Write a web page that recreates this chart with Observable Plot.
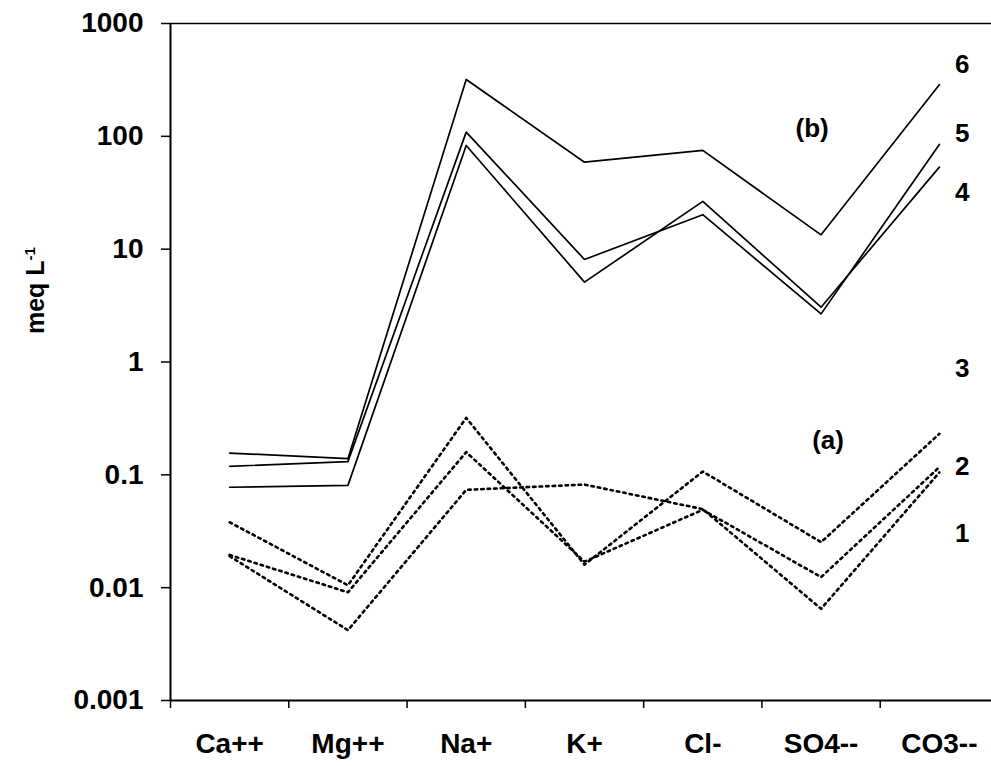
<!DOCTYPE html>
<html>
<head>
<meta charset="utf-8">
<script src="https://cdn.jsdelivr.net/npm/d3@7"></script>
<script src="https://cdn.jsdelivr.net/npm/@observablehq/plot@0.6"></script>
<style>
  html, body { margin: 0; padding: 0; background: #fff; overflow: hidden; }
</style>
</head>
<body>
<div id="chart"></div>
<script>
const categories = ["Ca++", "Mg++", "Na+", "K+", "Cl-", "SO4--", "CO3--"];

// (b) solid series
const s6 = [0.156, 0.139, 319, 59, 75, 13.4, 287];
const s5 = [0.119, 0.131, 109, 8.1, 20.2, 2.67, 84.7];
const s4 = [0.0776, 0.0806, 83, 5.1, 26.5, 3.06, 53.3];
// (a) dotted series
const s3 = [0.038, 0.0105, 0.32, 0.016, 0.107, 0.0253, 0.231];
const s2 = [0.0195, 0.0091, 0.159, 0.017, 0.049, 0.0124, 0.117];
const s1 = [0.019, 0.0042, 0.0736, 0.082, 0.0497, 0.0065, 0.105];

const yTicks = [0.001, 0.01, 0.1, 1, 10, 100, 1000];
const yTickLabels = ["0.001", "0.01", "0.1", "1", "10", "100", "1000"];

// series end labels (value-space positions)
const seriesLabels = ["6", "5", "4", "3", "2", "1"];
const seriesLabelY = [434, 106, 31.8, 0.875, 0.119, 0.030];
const groupLabels = ["(b)", "(a)"];
const groupLabelY = [117, 0.20];

const tidy = (name, arr) => arr.map((v, i) => ({series: name, x: i + 0.5, y: v}));
const solid = [...tidy("6", s6), ...tidy("5", s5), ...tidy("4", s4)];
const dotted = [...tidy("3", s3), ...tidy("2", s2), ...tidy("1", s1)];

const font = "Liberation Sans, Arial, sans-serif";
const n = categories.length;
const yLabelOf = d => {
  let best = 0;
  yTicks.forEach((t, i) => { if (Math.abs(Math.log10(t) - Math.log10(d)) < Math.abs(Math.log10(yTicks[best]) - Math.log10(d))) best = i; });
  return yTickLabels[best];
};
const xLabelOf = d => categories[Math.round(d - 0.5)];

const chart = Plot.plot({
  width: 991,
  height: 766,
  marginLeft: 170,
  marginRight: 0,
  marginTop: 23,
  marginBottom: 66,
  style: {fontFamily: font, fontWeight: "bold", fontSize: "28px", background: "#fff", color: "#000"},
  x: {type: "linear", domain: [0, n], range: [170, 998]},
  y: {type: "log", domain: [0.001, 1000]},
  marks: [
    Plot.axisY({ticks: yTicks, tickSize: 9, tickPadding: 18, tickFormat: yLabelOf,
      label: null, fontSize: 28, fontWeight: "bold", strokeWidth: 1.5}),
    Plot.axisX({ticks: d3.range(n + 1), tickSize: 8, tickFormat: () => "", label: null, strokeWidth: 1.5}),
    Plot.axisX({ticks: d3.range(n).map(i => i + 0.5), tickSize: 0, tickPadding: 33,
      tickFormat: xLabelOf, label: null, fontSize: 28, fontWeight: "bold"}),
    Plot.ruleX([0], {y1: 0.001, y2: 1000, stroke: "#000", strokeWidth: 2}),
    Plot.ruleY([0.001], {x1: 0, x2: n + 0.2, stroke: "#000", strokeWidth: 2}),
    Plot.ruleY([1000], {x1: 0, x2: n + 0.2, stroke: "#000", strokeWidth: 1.5}),
    Plot.line(solid, {x: "x", y: "y", z: "series", stroke: "#000", strokeWidth: 1.7}),
    Plot.line(dotted, {x: "x", y: "y", z: "series", stroke: "#000", strokeWidth: 2.6, strokeDasharray: "2.5,4"}),
    Plot.text(seriesLabels, {x: n - 0.5, y: (d, i) => seriesLabelY[i], text: d => d, dx: 23,
      fontSize: 26, fontWeight: "bold", fill: "#000", textAnchor: "middle"}),
    Plot.text([groupLabels[0]], {x: n - 1.5, y: groupLabelY[0], text: d => d, dx: -9,
      fontSize: 26, fontWeight: "bold", fill: "#000", textAnchor: "middle"}),
    Plot.text([groupLabels[1]], {x: n - 1.5, y: groupLabelY[1], text: d => d, dx: 7,
      fontSize: 26, fontWeight: "bold", fill: "#000", textAnchor: "middle"}),
    Plot.text(["meq L-1"], {x: 0, y: 4.3, dx: -135, rotate: -90, text: d => d, className: "ylab",
      fontSize: 25, fontWeight: "bold", fill: "#000", textAnchor: "middle"})
  ]
});
document.getElementById("chart").appendChild(chart);
// render the "-1" as a superscript
chart.querySelectorAll(".ylab text").forEach(t => {
  t.textContent = "";
  t.appendChild(document.createTextNode("meq L"));
  const sup = document.createElementNS("http://www.w3.org/2000/svg", "tspan");
  sup.setAttribute("dy", "-0.55em");
  sup.setAttribute("font-size", "15");
  sup.textContent = "-1";
  t.appendChild(sup);
});
</script>
</body>
</html>
